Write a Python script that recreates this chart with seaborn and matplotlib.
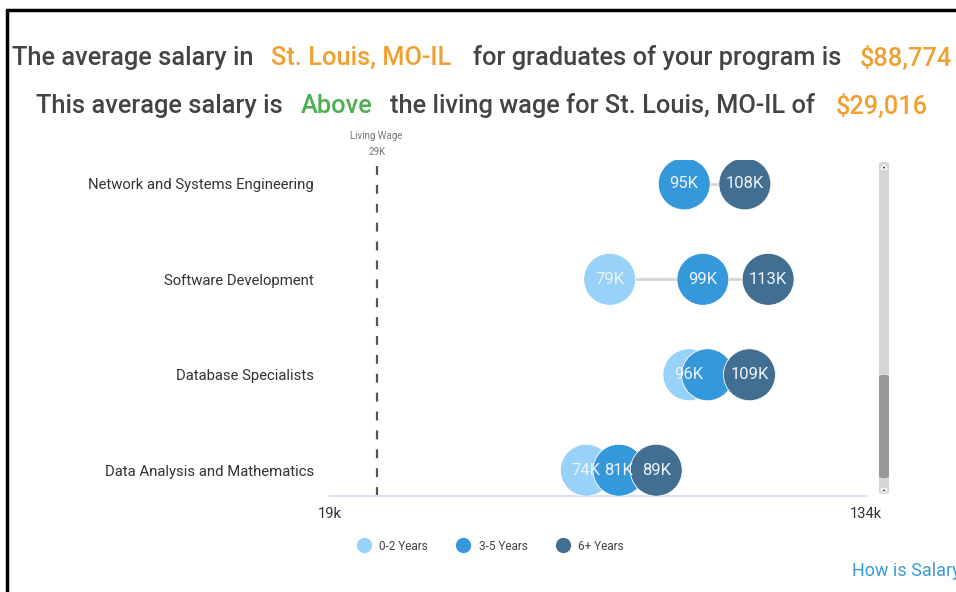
import numpy as np
import pandas as pd
import seaborn as sns
import matplotlib.pyplot as plt
from matplotlib.patches import FancyBboxPatch, Polygon
from matplotlib.lines import Line2D

# DATA ----------------------------------------------------------------------------
occupations = ["Network and Systems Engineering", "Software Development",
               "Database Specialists", "Data Analysis and Mathematics"]
levels = ["0-2 Years", "3-5 Years", "6+ Years"]
sal_0_2 = [np.nan, 79, 96, 74]
sal_3_5 = [95, 99, 100, 81]
sal_6p = [108, 113, 109, 89]
# labels hidden where the bubbles overlap too much
show_0_2 = [False, True, True, True]
show_3_5 = [True, True, False, True]
show_6p = [True, True, True, True]
living_wage = 29
x_min, x_max = 19, 134
palette = {"0-2 Years": "#98d2f8", "3-5 Years": "#3498db", "6+ Years": "#426f91"}

rows = []
for i, occ in enumerate(occupations):
    for lev, vals, shows in zip(levels, [sal_0_2, sal_3_5, sal_6p], [show_0_2, show_3_5, show_6p]):
        rows.append({"occupation": occ, "row": i, "level": lev, "salary": vals[i], "show": shows[i]})
df = pd.DataFrame(rows).dropna(subset=["salary"])

# PLOT ----------------------------------------------------------------------------
sns.set_style("white")
plt.rcParams["font.family"] = ["Roboto", "DejaVu Sans"]

fig = plt.figure(figsize=(9.56, 5.92), dpi=100)
ax = fig.add_axes([330 / 956, 1 - 496 / 592, 536 / 956, 336 / 592])

# connecting range lines
rng = df.groupby("row")["salary"].agg(["min", "max"]).reset_index()
for _, r in rng.iterrows():
    ax.plot([r["min"], r["max"]], [r["row"], r["row"]], color="#d4d4d4", lw=2, zorder=1)

sns.scatterplot(data=df, x="salary", y="row", hue="level", palette=palette,
                s=1400, edgecolor="white", linewidth=0.6, legend=False, ax=ax, zorder=3)

for _, r in df[df["show"]].iterrows():
    ax.text(r["salary"], r["row"], f"{int(r['salary'])}K", ha="center", va="center",
            color="#eef4fa", fontsize=12, zorder=5)

# living wage line
ax.axvline(living_wage, ymin=0, ymax=1, color="#555555", lw=1.6,
           linestyle=(0, (4, 4.5)), zorder=0)
ax.text(living_wage, -0.5, "Living Wage", ha="center", va="center", fontsize=7, color="#777777",
        clip_on=False)
ax.text(living_wage, -0.33, "29K", ha="center", va="center", fontsize=7, color="#777777",
        clip_on=False)

ax.set_xlim(x_min, x_max)
ax.set_ylim(3.27, -0.25)
ax.set_yticks(range(len(occupations)))
ax.set_yticklabels(occupations, fontsize=10.7, color="#333333")
ax.tick_params(axis="y", length=0, pad=11.5)
ax.set_xticks([x_min, x_max])
ax.set_xticklabels(["19k", "134k"], fontsize=10.5, color="#333333")
ax.tick_params(axis="x", length=5, color="#c8cce6", width=1.2, pad=3)
ax.set_xlabel("")
ax.set_ylabel("")
for side in ["top", "left", "right"]:
    ax.spines[side].set_visible(False)
ax.spines["bottom"].set_color("#dcdff0")
ax.spines["bottom"].set_linewidth(1.5)

# headline texts
orange = "#f0a030"
dark = "#444444"
y1 = 1 - 58 / 592
y2 = 1 - 106 / 592
fs = 18.3
for x, txt, col in [(12, "The average salary in", dark), (271, "St. Louis, MO-IL", orange),
                    (473, "for graduates of your program is", dark), (860, "$88,774", orange)]:
    fig.text(x / 956, y1, txt, ha="left", va="center", fontsize=fs, color=col, fontweight="medium")
for x, txt, col in [(36, "This average salary is", dark), (301, "Above", "#4caf50"),
                    (390, "the living wage for St. Louis, MO-IL of", dark), (836, "$29,016", orange)]:
    fig.text(x / 956, y2, txt, ha="left", va="center", fontsize=fs, color=col, fontweight="medium")

# legend
handles = [Line2D([], [], marker="o", linestyle="", markersize=11, markerfacecolor=palette[l],
                  markeredgecolor="none", label=l) for l in levels]
fig.legend(handles=handles, loc="center", bbox_to_anchor=(488 / 956, 1 - 546 / 592), ncol=3,
           frameon=False, fontsize=8.5, handletextpad=0.3, columnspacing=2.0, labelcolor="#444444")

# scrollbar
fig.add_artist(FancyBboxPatch((879 / 956, 1 - 494 / 592), 10 / 956, 332 / 592,
                              boxstyle="round,pad=0,rounding_size=0.004",
                              transform=fig.transFigure, facecolor="#d6d6d6", edgecolor="none"))
fig.add_artist(FancyBboxPatch((879 / 956, 1 - 478 / 592), 10 / 956, 103 / 592,
                              boxstyle="round,pad=0,rounding_size=0.004",
                              transform=fig.transFigure, facecolor="#979797", edgecolor="none"))
fig.add_artist(Polygon([[881 / 956, 1 - 169 / 592], [887 / 956, 1 - 169 / 592], [884 / 956, 1 - 165 / 592]],
                       closed=True, transform=fig.transFigure, facecolor="#333333"))
fig.add_artist(Polygon([[881 / 956, 1 - 489 / 592], [887 / 956, 1 - 489 / 592], [884 / 956, 1 - 493 / 592]],
                       closed=True, transform=fig.transFigure, facecolor="#333333"))

# frame of the page
fig.add_artist(Line2D([7 / 956, 7 / 956], [0, 1 - 10 / 592], transform=fig.transFigure, color="black", lw=2.5))
fig.add_artist(Line2D([7 / 956, 1], [1 - 10 / 592, 1 - 10 / 592], transform=fig.transFigure, color="black", lw=2.5))

fig.text(852 / 956, 1 - 571 / 592, "How is Salary Calculated?", ha="left", va="center",
         fontsize=13, color="#3a9ad9")

fig.savefig("out.png", dpi=100)
